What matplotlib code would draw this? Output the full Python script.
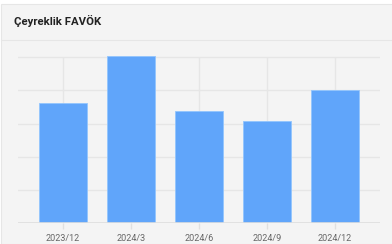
import matplotlib.pyplot as plt
from matplotlib.patches import Rectangle
from matplotlib.lines import Line2D

# quarterly EBITDA (relative units)
periods = ['2023/12', '2024/3', '2024/6', '2024/9', '2024/12']
favok = [3.61, 5.05, 3.39, 3.08, 4.01]
grid_levels = [0, 1, 2, 3, 4, 5]

W, H = 392, 244
fig = plt.figure(figsize=(W / 100, H / 100), dpi=100)
fig.patch.set_facecolor('white')

# card background, border and header line
fig.patches.append(Rectangle((1 / W, 0), 1, 1 - 4 / H, transform=fig.transFigure,
                             facecolor='#f4f4f4', edgecolor='#e6e6e6', lw=0.8, zorder=-10))
fig.lines.append(Line2D([1 / W, 1], [1 - 39.5 / H] * 2, transform=fig.transFigure,
                        color='#e6e6e6', lw=0.8, zorder=-9))
fig.text(14 / W, 1 - 21 / H, 'Çeyreklik FAVÖK', fontsize=8.2, fontweight='bold',
         family='Roboto', color='#222222', va='center', ha='left')

# axes placement
top_val = 5.1
px_unit = (223 - 57.3) / 5
ax_top = 223 - top_val * px_unit
ax = fig.add_axes([18 / W, 1 - 223 / H, 362 / W, (223 - ax_top) / H])
ax.set_facecolor('none')
ax.set_xlim(-45 / 68, 317 / 68)
ax.set_ylim(0, top_val)

x = list(range(len(periods)))
for g in grid_levels[1:]:
    ax.axhline(g, color='#e6e6e6', lw=1, zorder=0)
ax.axhline(0, color='#dedede', lw=1.2, zorder=3)
ax.vlines(x, 0, 5, color='#e6e6e6', lw=1, zorder=0)

ax.bar(x, favok, width=48 / 68, color='#60a5fa', edgecolor='#93c5fd', lw=0.6, zorder=2)

ax.set_xticks(x)
ax.set_xticklabels(periods, fontsize=6.5, color='#666666', family='Roboto')
ax.tick_params(axis='x', length=4, width=1, color='#e0e0e0', pad=4)
ax.set_yticks([])
for s in ax.spines.values():
    s.set_visible(False)

fig.savefig('out.png', dpi=100)
